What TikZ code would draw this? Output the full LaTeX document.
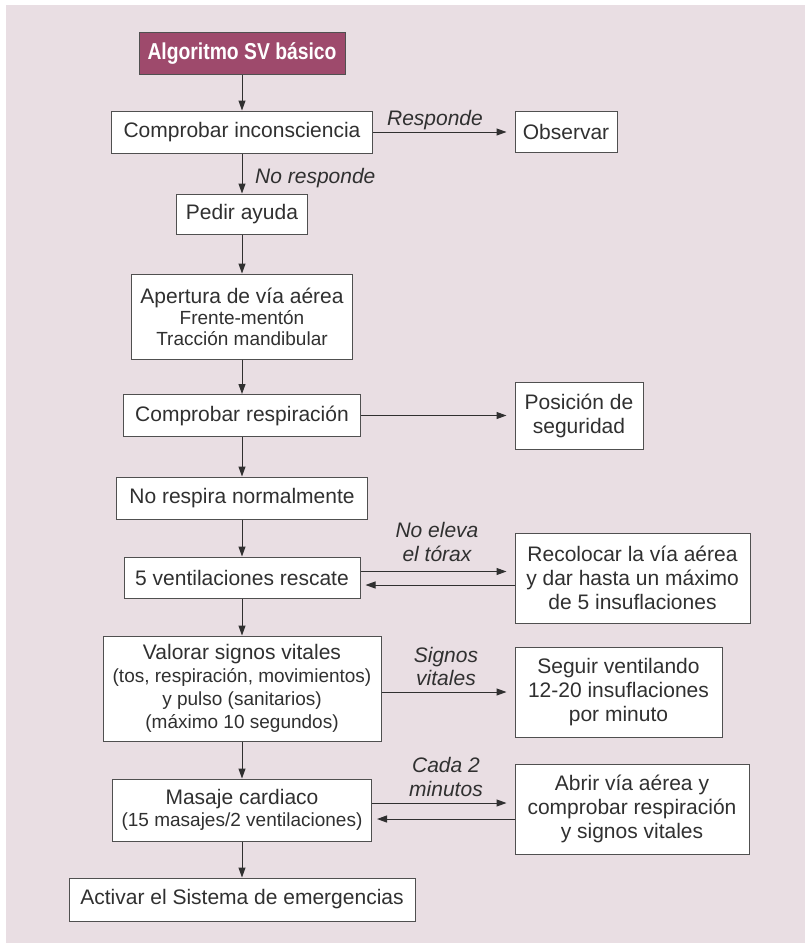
\documentclass[tikz,border=0pt]{standalone}
\usepackage{fontspec}
\setmainfont{Liberation Sans}
\newfontfamily\headfont[FakeStretch=0.84]{Liberation Sans}
\usetikzlibrary{arrows.meta}

\definecolor{bgpink}{HTML}{E9DEE3}
\definecolor{headfill}{HTML}{9E4A6C}
\definecolor{ink}{HTML}{303030}
\definecolor{edge}{HTML}{505050}

\tikzset{
  box/.style={draw=edge, line width=1pt, fill=white, inner sep=0pt,
    align=center, text=ink, font=\fontsize{21}{24}\selectfont},
  headbox/.style={box, fill=headfill, text=white,
    font=\headfont\bfseries\fontsize{23}{26}\selectfont},
  flow/.style={draw=ink, line width=1pt, -{Triangle[length=10pt,width=7pt]}},
  lbl/.style={text=ink, inner sep=0pt, font=\fontsize{21}{24}\selectfont\itshape},
}
\newcommand{\bigline}[1]{{\fontsize{21}{24}\selectfont #1}}

\begin{document}
\begin{tikzpicture}[x=1pt,y=-1pt]
  % page and tinted panel
  \fill[white] (0,0) rectangle (805,943);
  \fill[bgpink] (6,5) rectangle (805,943);
  \useasboundingbox (0,0) rectangle (805,943);

  % main column
  \node[headbox, minimum width=206pt, minimum height=42pt] (title) at (242,53) {Algoritmo SV básico};
  \node[box, minimum width=261pt, minimum height=42pt] (ci) at (242,132) {Comprobar inconsciencia};
  \node[box, minimum width=131pt, minimum height=40pt] (pedir) at (242,214) {Pedir ayuda};
  \node[box, minimum width=221pt, minimum height=85pt, font=\fontsize{19}{21}\selectfont] (apert) at (242,316.5)
    {\bigline{Apertura de vía aérea}\\Frente-mentón\\Tracción mandibular};
  \node[box, minimum width=237pt, minimum height=42pt] (cr) at (242,415.5) {Comprobar respiración};
  \node[box, minimum width=251pt, minimum height=42pt] (nrn) at (242,498) {No respira normalmente};
  \node[box, minimum width=236pt, minimum height=41pt] (vent) at (242,577.5) {5 ventilaciones rescate};
  \node[box, minimum width=278pt, minimum height=105pt, font=\fontsize{19}{23}\selectfont] (val) at (242,688.5)
    {\bigline{Valorar signos vitales}\\(tos, respiración, movimientos)\\y pulso (sanitarios)\\(máximo 10 segundos)};
  \node[box, minimum width=259pt, minimum height=62pt, font=\fontsize{19}{22}\selectfont] (mas) at (242,810)
    {\bigline{Masaje cardiaco}\\(15 masajes/2 ventilaciones)};
  \node[box, minimum width=346pt, minimum height=43pt] (act) at (242,899.5) {Activar el Sistema de emergencias};

  % side column
  \node[box, minimum width=102pt, minimum height=41pt] (obs) at (566,132) {Observar};
  \node[box, minimum width=128pt, minimum height=67pt] (pos) at (579,415.5) {Posición de\\seguridad};
  \node[box, minimum width=235pt, minimum height=90pt] (recol) at (632.5,578)
    {Recolocar la vía aérea\\y dar hasta un máximo\\de 5 insuflaciones};
  \node[box, minimum width=207pt, minimum height=90pt] (seg) at (618.5,692)
    {Seguir ventilando\\12-20 insuflaciones\\por minuto};
  \node[box, minimum width=234pt, minimum height=90pt] (abr) at (632,809)
    {Abrir vía aérea y\\comprobar respiración\\y signos vitales};

  % downward flow
  \draw[flow] (title.south) -- (title.south |- ci.north);
  \draw[flow] (ci.south) -- (ci.south |- pedir.north);
  \draw[flow] (pedir.south) -- (pedir.south |- apert.north);
  \draw[flow] (apert.south) -- (apert.south |- cr.north);
  \draw[flow] (cr.south) -- (cr.south |- nrn.north);
  \draw[flow] (nrn.south) -- (nrn.south |- vent.north);
  \draw[flow] (vent.south) -- (vent.south |- val.north);
  \draw[flow] (val.south) -- (val.south |- mas.north);
  \draw[flow] (mas.south) -- (mas.south |- act.north);

  % branches
  \draw[flow] (ci.east) -- ([xshift=-8pt]obs.west);
  \draw[flow] (cr.east) -- ([xshift=-8pt]pos.west);
  \draw[flow] ([yshift=6pt]vent.east) -- ([yshift=6.5pt,xshift=-8pt]recol.west);
  \draw[flow] ([yshift=-7pt]recol.west) -- ([yshift=-7.5pt,xshift=5pt]vent.east);
  \draw[flow] ([yshift=-3.5pt]val.east) -- ([xshift=-8pt]seg.west);
  \draw[flow] ([yshift=7pt]mas.east) -- ([yshift=6pt,xshift=-8pt]abr.west);
  \draw[flow] ([yshift=-10pt]abr.west) -- ([yshift=-9pt,xshift=5pt]mas.east);

  % branch labels
  \node[lbl, anchor=base] (lresp) at (435,125) {Responde};
  \node[lbl, anchor=base west] (lnoresp) at (255,183) {No responde};
  \node[lbl, anchor=base] (leleva) at (437,537) {No eleva};
  \node[lbl, anchor=base] (ltorax) at (437,561) {el tórax};
  \node[lbl, anchor=base] (lsignos) at (446,662) {Signos};
  \node[lbl, anchor=base] (lvitales) at (446,685) {vitales};
  \node[lbl, anchor=base] (lcada) at (446,772) {Cada 2};
  \node[lbl, anchor=base] (lmin) at (446,796) {minutos};
\end{tikzpicture}
\end{document}
